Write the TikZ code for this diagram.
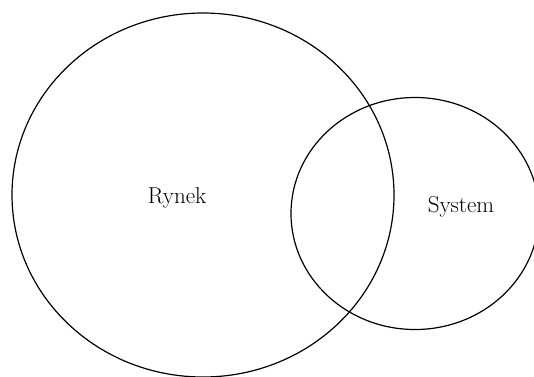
\documentclass[tikz,border=0pt]{standalone}
\usepackage{tikz}
\usetikzlibrary{shapes.geometric,positioning}
\tikzset{
  conjunto/.style={
    ellipse, draw, line width=1.2pt, inner sep=0pt},
  etiq/.style={
    anchor=base, inner sep=0pt, font=\fontsize{23}{27}\selectfont}
}
\begin{document}
\begin{tikzpicture}[x=1pt,y=-1pt]

\useasboundingbox (0,0) rectangle (534,376);

% Conjuntos
\node[conjunto, minimum width=382pt, minimum height=364pt] (rynek) at (203,195) {};
\node[conjunto, minimum width=248pt, minimum height=232pt] (system) at (415,213.5) {};

\node[etiq] (lrynek) at (177,203.5) {Rynek};
\node[etiq] (lsystem) at (461,212.7) {System};

\end{tikzpicture}
\end{document}
